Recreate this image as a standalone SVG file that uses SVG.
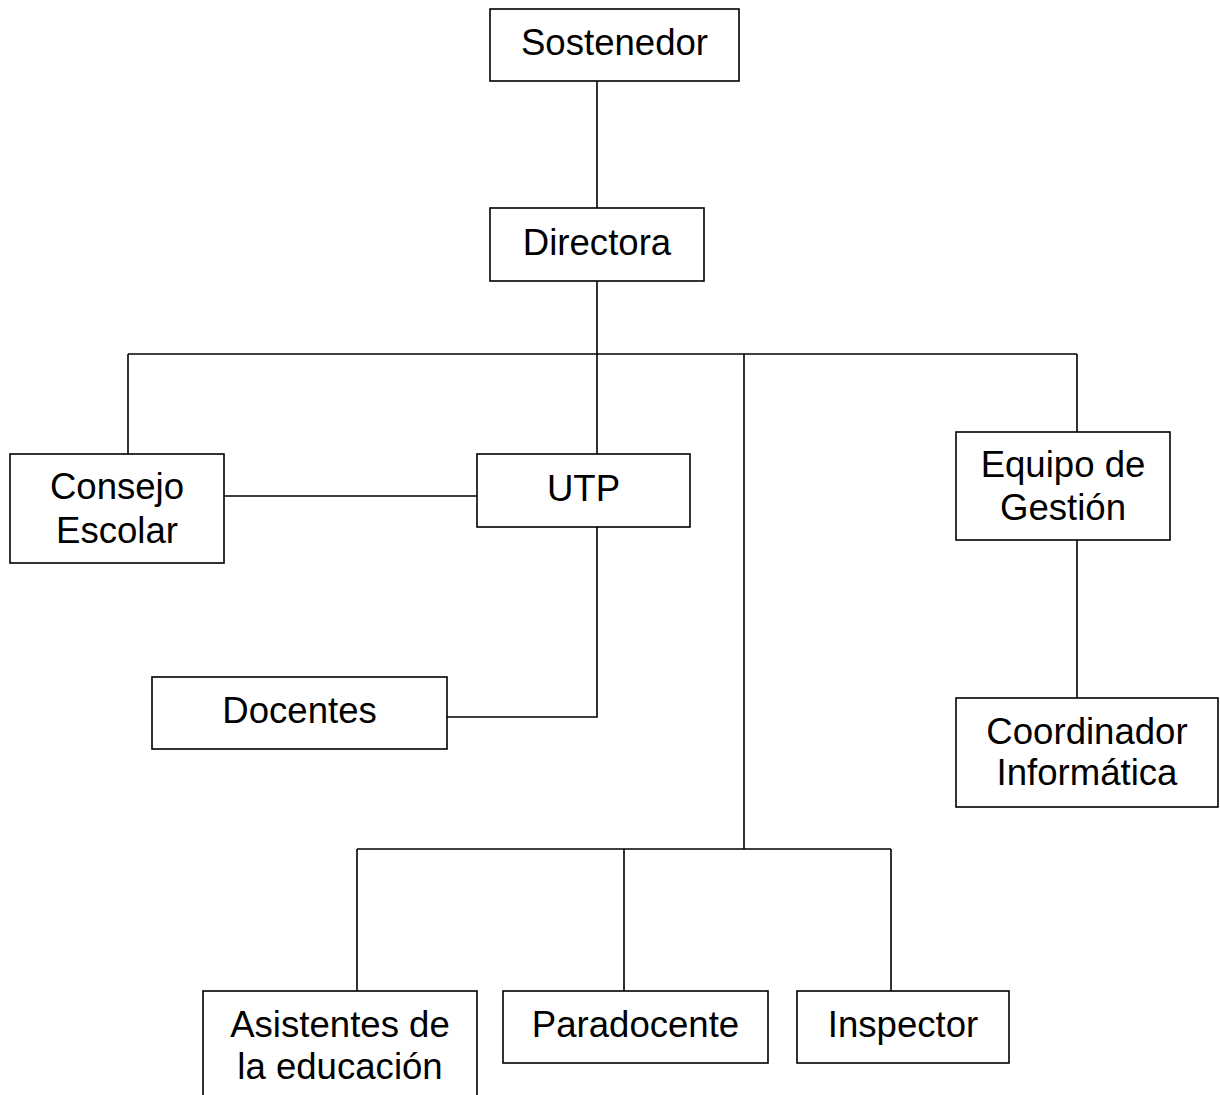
<svg xmlns="http://www.w3.org/2000/svg" width="1220" height="1095" viewBox="0 0 1220 1095">
<style>
.box{fill:#fff;stroke:#000;stroke-width:1.6}
.ln{fill:none;stroke:#000;stroke-width:1.6}
text{font-family:"Liberation Sans",Arial,sans-serif;font-size:36.6px;fill:#000;text-anchor:middle}
</style>
<rect width="1220" height="1095" fill="#fff"/>
<g id="connectors">
<line class="ln" x1="597" y1="81" x2="597" y2="208"/>
<line class="ln" x1="597" y1="281" x2="597" y2="454"/>
<line class="ln" x1="128" y1="354" x2="1077" y2="354"/>
<line class="ln" x1="128" y1="354" x2="128" y2="454"/>
<line class="ln" x1="1077" y1="354" x2="1077" y2="432"/>
<line class="ln" x1="224" y1="496" x2="477" y2="496"/>
<polyline class="ln" points="597,527 597,717 447,717"/>
<line class="ln" x1="1077" y1="540" x2="1077" y2="698"/>
<line class="ln" x1="744" y1="354" x2="744" y2="849"/>
<line class="ln" x1="357" y1="849" x2="891" y2="849"/>
<line class="ln" x1="357" y1="849" x2="357" y2="991"/>
<line class="ln" x1="624" y1="849" x2="624" y2="991"/>
<line class="ln" x1="891" y1="849" x2="891" y2="991"/>
</g>
<g id="sostenedor"><rect class="box" x="490" y="9" width="249" height="72"/><text x="614.5" y="55">Sostenedor</text></g>
<g id="directora"><rect class="box" x="490" y="208" width="214" height="73"/><text x="597" y="255">Directora</text></g>
<g id="consejo"><rect class="box" x="10" y="454" width="214" height="109"/><text x="117" y="499">Consejo</text><text x="117" y="543">Escolar</text></g>
<g id="utp"><rect class="box" x="477" y="454" width="213" height="73"/><text x="583.5" y="501">UTP</text></g>
<g id="equipo"><rect class="box" x="956" y="432" width="214" height="108"/><text x="1063" y="477">Equipo de</text><text x="1063" y="520">Gestión</text></g>
<g id="docentes"><rect class="box" x="152" y="677" width="295" height="72"/><text x="299.5" y="723">Docentes</text></g>
<g id="coordinador"><rect class="box" x="956" y="698" width="262" height="109"/><text x="1087" y="744">Coordinador</text><text x="1087" y="785">Informática</text></g>
<g id="asistentes"><rect class="box" x="203" y="991" width="274" height="120"/><text x="340" y="1037">Asistentes de</text><text x="340" y="1079">la educación</text></g>
<g id="paradocente"><rect class="box" x="503" y="991" width="265" height="72"/><text x="635.5" y="1037">Paradocente</text></g>
<g id="inspector"><rect class="box" x="797" y="991" width="212" height="72"/><text x="903" y="1037">Inspector</text></g>
</svg>
